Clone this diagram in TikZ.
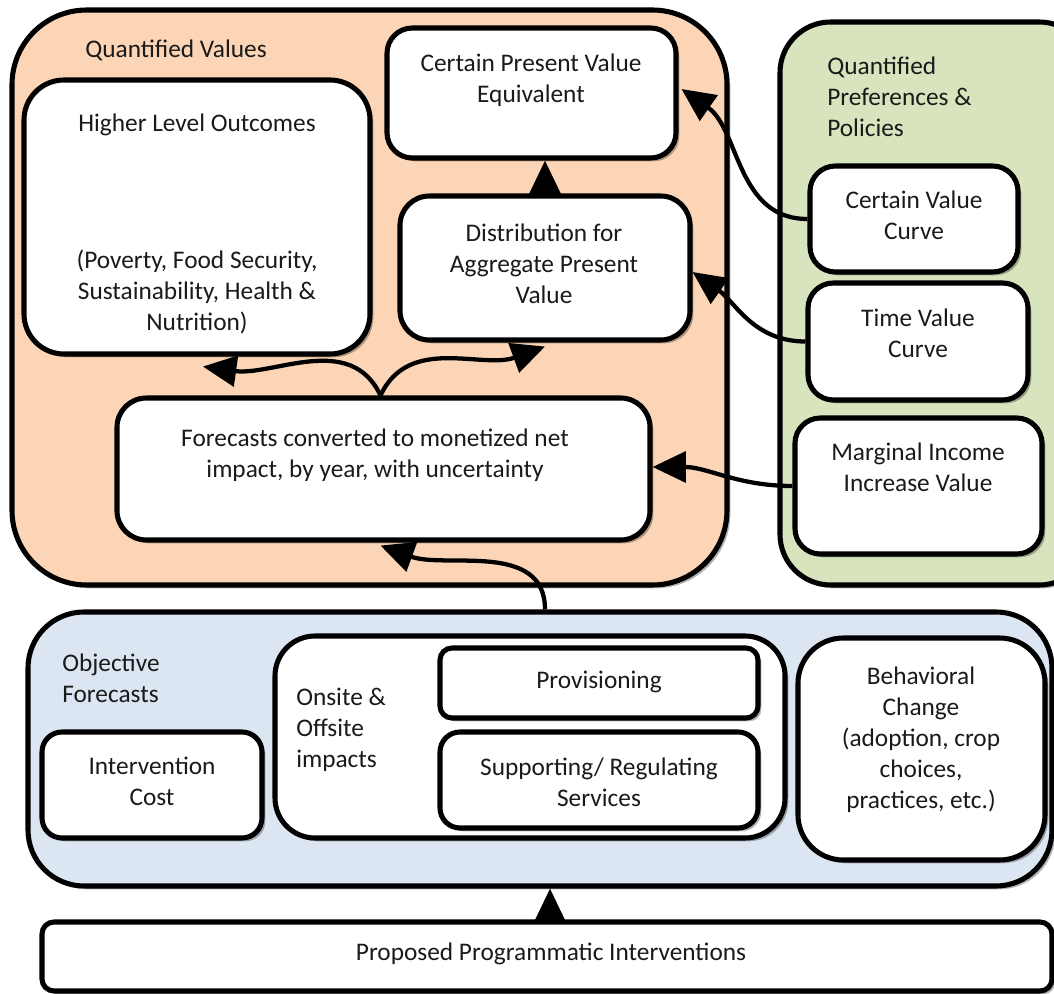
\documentclass[tikz,border=0pt]{standalone}
\usepackage{fontspec}
\setmainfont{Carlito}
\usetikzlibrary{arrows.meta,shadows,fit,calc}
\definecolor{orangefill}{HTML}{FBD5B5}
\definecolor{greenfill}{HTML}{D7E4BD}
\definecolor{bluefill}{HTML}{DCE6F2}
\definecolor{txtcol}{HTML}{1A1A1A}
\tikzset{
  shad/.style={drop shadow={shadow xshift=2.5pt,shadow yshift=-2.5pt,fill=black,opacity=0.3}},
  cont/.style={draw,line width=3.8pt,inner sep=0pt,shad},
  box/.style={draw,line width=3.8pt,fill=white,inner sep=0pt,shad},
  txt/.style={align=center,text=txtcol,inner sep=0pt,font=\fontsize{19}{23.2}\selectfont},
  ltxt/.style={align=left,text=txtcol,inner sep=0pt,font=\fontsize{19}{23.2}\selectfont,anchor=west},
  conn/.style={line width=3.2pt,-{Triangle[length=25pt,width=23pt]}}
}
\begin{document}
\begin{tikzpicture}[x=0.75pt,y=-0.75pt]
\useasboundingbox (0,0) rectangle (1054,994);
\clip (0,0) rectangle (1054,994);
% containers
\node[cont,fill=orangefill,rounded corners=56pt,fit={(12,10) (727,585)}] (qv) {};
\node[cont,fill=greenfill,rounded corners=38pt,fit={(780,22) (1090,585)}] (qp) {};
\node[cont,fill=bluefill,rounded corners=42pt,fit={(28,612) (1052,886)}] (of) {};
\node[box,rounded corners=9pt,fit={(42,922) (1052,991)}] (ppi) {};
% orange nodes
\node[box,rounded corners=30pt,fit={(24,80) (370,354)}] (hlo) {};
\node[box,rounded corners=19pt,fit={(387,28) (676,158)}] (cpv) {};
\node[box,rounded corners=22pt,fit={(400,196) (690,340)}] (dapv) {};
\node[box,rounded corners=22pt,fit={(117,398) (650,540)}] (fc) {};
% green nodes
\node[box,rounded corners=19pt,fit={(810,166) (1018,272)}] (cvc) {};
\node[box,rounded corners=19pt,fit={(808,283) (1028,400)}] (tvc) {};
\node[box,rounded corners=19pt,fit={(795,418) (1042,554)}] (miiv) {};
% blue nodes
\node[box,rounded corners=15pt,fit={(42,732) (262,838)}] (ic) {};
\node[box,rounded corners=30pt,fit={(275,636) (785,838)}] (oo) {};
\node[box,rounded corners=9pt,fit={(440,648) (758,718)}] (prov) {};
\node[box,rounded corners=15pt,fit={(440,732) (758,828)}] (srs) {};
\node[box,rounded corners=34pt,fit={(798,638) (1045,860)}] (bc) {};
% texts
\node[txt] (tqv) at (176,50) {Quantified Values};
\node[txt] (thlo1) at (197,125) {Higher Level Outcomes};
\node[txt] (thlo2) at (197,292) {(Poverty, Food Security,\\Sustainability, Health \&\\Nutrition)};
\node[txt] (tcpv) at (531,80) {Certain Present Value\\Equivalent};
\node[txt] (tdapv) at (544,264) {Distribution for\\Aggregate Present\\Value};
\node[txt] (tfc) at (375,455) {Forecasts converted to monetized net\\impact, by year, with uncertainty};
\node[ltxt] (tqp) at (827,97) {Quantified\\Preferences \&\\Policies};
\node[txt] (tcvc) at (914,215) {Certain Value\\Curve};
\node[txt] (ttvc) at (918,333) {Time Value\\Curve};
\node[txt] (tmiiv) at (918,467) {Marginal Income\\Increase Value};
\node[ltxt] (tof) at (62,678) {Objective\\Forecasts};
\node[txt] (tic) at (152,781) {Intervention\\Cost};
\node[ltxt] (too) at (296,730) {Onsite \&\\Offsite\\impacts};
\node[txt] (tprov) at (599,682) {Provisioning};
\node[txt] (tsrs) at (599,782) {Supporting/ Regulating\\Services};
\node[txt] (tbc) at (921,740) {Behavioral\\Change\\(adoption, crop\\choices,\\practices, etc.)};
\node[txt] (tppi) at (551,954) {Proposed Programmatic Interventions};
% connectors
\coordinate (fcn) at ($(fc.north)+(-3,0)$);
\draw[conn] (fcn) to[out=115,in=-8] ($(hlo.south)+(6,10)$);
\draw[conn] (fcn) to[out=65,in=200] ($(dapv.south)+(0,4)$);
\draw[conn] (dapv.north) -- (dapv.north |- cpv.south);
\draw[conn] (cvc.west) to[out=180,in=-35] ($(cpv.east)+(3,-4)$);
\draw[conn] (tvc.west) to[out=180,in=-35] ($(dapv.east)+(0,4)$);
\draw[conn] (miiv.west) to[out=180,in=0] ($(fc.east)+(0,-2)$);
\coordinate (ofn) at ($(of.north)+(5,0)$);
\draw[conn] (ofn) to[out=90,in=-20] ($(fc.south)+(-3,3)$);
\coordinate (ppin) at ($(ppi.north)+(3,0)$);
\draw[conn] (ppin) -- (ppin |- of.south);
\end{tikzpicture}
\end{document}
